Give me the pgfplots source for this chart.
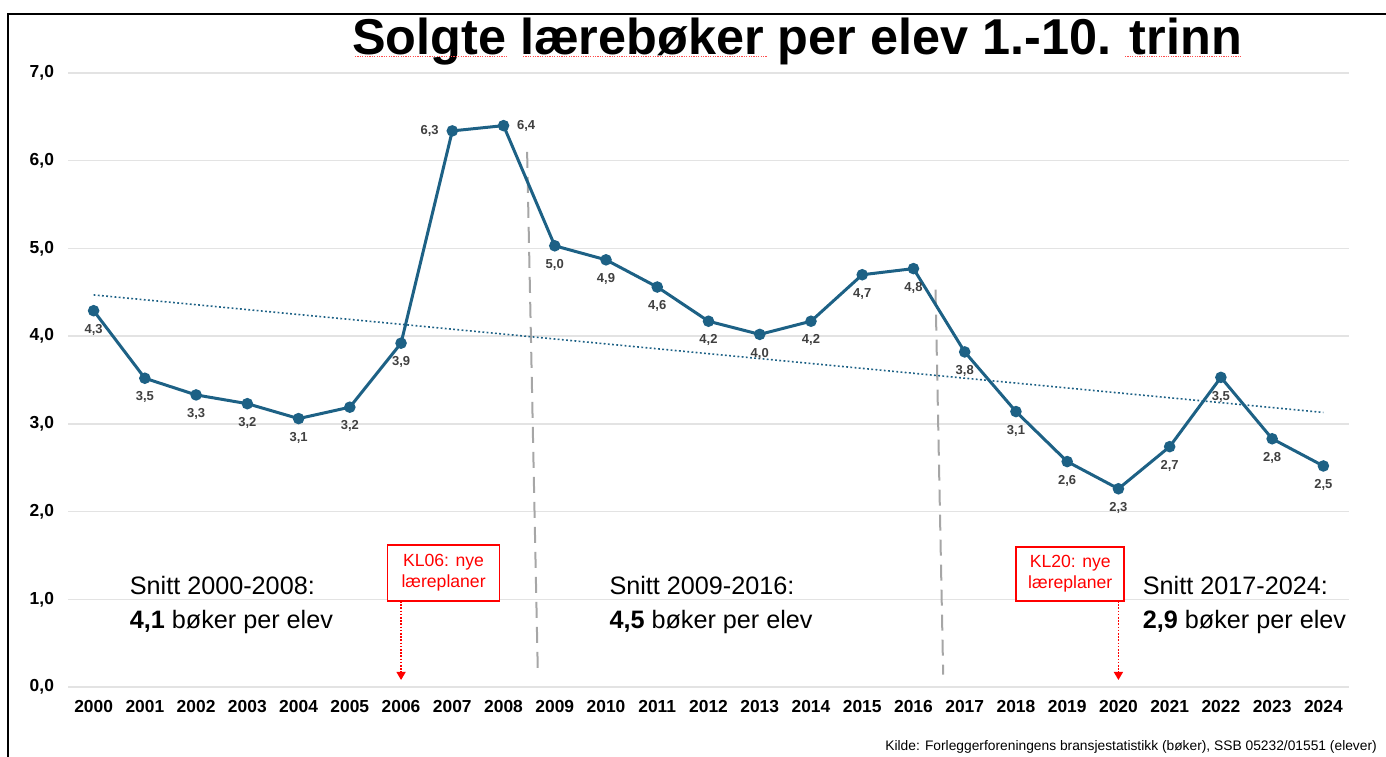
\documentclass[border=0pt]{standalone}
\usepackage{fontspec}
\setmainfont{Liberation Sans}
\usepackage{pgfplots}
\usepackage{pgfplotstable}
\pgfplotsset{compat=1.18}
\usetikzlibrary{arrows.meta}
\definecolor{linec}{HTML}{1D6185}
\definecolor{labc}{HTML}{404040}
\definecolor{gridc}{HTML}{E3E3E3}
\definecolor{dashc}{HTML}{A6A6A6}
\definecolor{redc}{HTML}{FF0000}

\pgfplotstableread{
x y
0 4.29
1 3.52
2 3.33
3 3.23
4 3.06
5 3.19
6 3.92
7 6.34
8 6.40
9 5.03
10 4.87
11 4.56
12 4.17
13 4.02
14 4.17
15 4.70
16 4.77
17 3.82
18 3.14
19 2.57
20 2.26
21 2.74
22 3.53
23 2.83
24 2.52
}\datatable

\pgfplotsset{
  lbl/.style={draw=none, mark=none, forget plot, nodes near coords,
    every node near coord/.append style={font=\bfseries\fontsize{6.5}{7}\selectfont, text=labc, inner sep=0pt, outer sep=6.8pt, anchor=#1}},
}

\begin{document}
\begin{tikzpicture}
\useasboundingbox (0,0) rectangle (693pt,378pt);
\clip (0,0) rectangle (693pt,378pt);
% frame
\draw[black, line width=1pt] (4pt,-5pt) -- (4pt,371pt) -- (700pt,371pt);
% title
\node[anchor=base, inner sep=0pt, font=\bfseries\fontsize{25.2}{30}\selectfont] at (398.5pt,350.5pt) {Solgte lærebøker per elev 1.-10. trinn};
\draw[red!70, line width=0.4pt, dash pattern=on 0.6pt off 0.6pt] (177.5pt,349.6pt) -- (254pt,349.6pt);
\draw[red!70, line width=0.4pt, dash pattern=on 0.6pt off 0.6pt] (261.5pt,349.6pt) -- (383.5pt,349.6pt);
\draw[red!70, line width=0.4pt, dash pattern=on 0.6pt off 0.6pt] (562.5pt,349.6pt) -- (621pt,349.6pt);
% source
\node[anchor=base west, inner sep=0pt, font=\fontsize{6.9}{8}\selectfont] at (442.5pt,3pt) {Kilde: Forleggerforeningens bransjestatistikk (bøker), SSB 05232/01551 (elever)};
\begin{axis}[
  at={(34pt,34.5pt)}, anchor=south west,
  scale only axis, width=640.5pt, height=307pt,
  xmin=-0.5, xmax=24.5, ymin=0, ymax=7,
  clip=false,
  axis line style={draw=none},
  tick style={draw=none},
  xtick={0,1,...,24},
  xticklabel={\pgfmathparse{int(2000+\tick)}\pgfmathresult},
  ytick={0,1,...,7},
  ymajorgrids,
  major grid style={gridc, line width=0.75pt},
  /pgf/number format/use comma,
  /pgf/number format/fixed,
  /pgf/number format/fixed zerofill,
  /pgf/number format/precision=1,
  /pgf/number format/assume math mode=true,
  tick label style={font=\bfseries\fontsize{8.7}{10}\selectfont, text=black},
  yticklabel style={anchor=east, xshift=-3.5pt},
  xticklabel style={anchor=north, yshift=-3pt},
]
% dashed period separators
\addplot[dashc, line width=1pt, dash pattern=on 8pt off 4.5pt, forget plot] coordinates {(8.46,6.10) (8.67,0.14)};
\addplot[dashc, line width=1pt, dash pattern=on 8pt off 4.5pt, forget plot] coordinates {(16.43,4.53) (16.58,0.14)};
% trend line
\addplot[linec, line width=0.8pt, dash pattern=on 0.9pt off 1.2pt, forget plot] coordinates {(0,4.47) (24,3.13)};
% main series
\addplot[linec, line width=1.5pt, mark=*, mark size=2.1pt, mark options={solid, fill=linec, draw=linec}] table[x=x,y=y]{\datatable};
% value labels
\addplot[lbl=north, x filter/.expression={or(x==7,x==8) ? nan : x}] table[x=x,y=y]{\datatable};
\addplot[lbl=east, x filter/.expression={x==7 ? x : nan}] table[x=x,y=y]{\datatable};
\addplot[lbl=west, x filter/.expression={x==8 ? x : nan}] table[x=x,y=y]{\datatable};
% red boxes and arrows
\node[draw=redc, line width=0.8pt, fill=white, text=redc, align=center, minimum width=56pt, minimum height=28pt, inner sep=1pt,
  font=\fontsize{8.8}{10.5}\selectfont] at (axis cs:6.83,1.30) {KL06: nye\\læreplaner};
\draw[redc, line width=0.7pt, dash pattern=on 0.8pt off 0.8pt, -{Triangle[width=4.5pt,length=4pt]}] (axis cs:6,0.98) -- (axis cs:6,0.08);
\node[draw=redc, line width=0.8pt, fill=white, text=redc, align=center, minimum width=54pt, minimum height=27pt, inner sep=1pt,
  font=\fontsize{8.8}{10.5}\selectfont] at (axis cs:19.06,1.29) {KL20: nye\\læreplaner};
\draw[redc, line width=0.7pt, dash pattern=on 0.8pt off 0.8pt, -{Triangle[width=4.5pt,length=4pt]}] (axis cs:20,0.98) -- (axis cs:20,0.08);
% averages
\node[anchor=base west, inner sep=0pt, font=\fontsize{12.6}{14}\selectfont] at (axis cs:0.70,1.05) {Snitt 2000-2008:};
\node[anchor=base west, inner sep=0pt, font=\fontsize{12.6}{14}\selectfont] at (axis cs:0.70,0.67) {\textbf{4,1} bøker per elev};
\node[anchor=base west, inner sep=0pt, font=\fontsize{12.6}{14}\selectfont] at (axis cs:10.06,1.05) {Snitt 2009-2016:};
\node[anchor=base west, inner sep=0pt, font=\fontsize{12.6}{14}\selectfont] at (axis cs:10.06,0.67) {\textbf{4,5} bøker per elev};
\node[anchor=base west, inner sep=0pt, font=\fontsize{12.6}{14}\selectfont] at (axis cs:20.47,1.05) {Snitt 2017-2024:};
\node[anchor=base west, inner sep=0pt, font=\fontsize{12.6}{14}\selectfont] at (axis cs:20.47,0.67) {\textbf{2,9} bøker per elev};
\end{axis}
\end{tikzpicture}
\end{document}
